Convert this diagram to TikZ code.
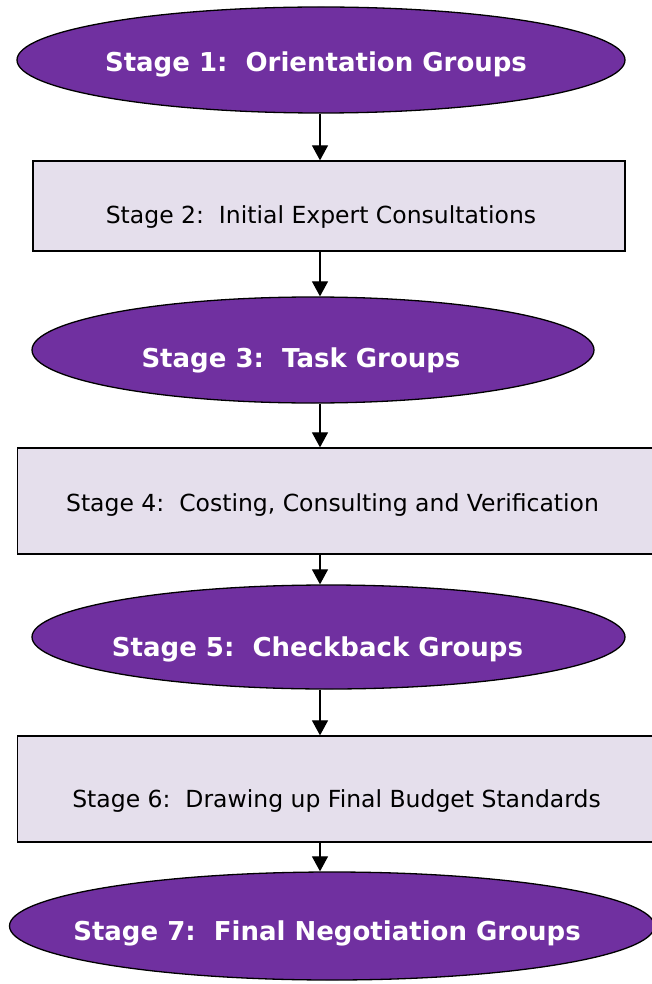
\documentclass[tikz,border=0pt]{standalone}
\usepackage{fontspec}
\setmainfont{DejaVu Sans}
\usetikzlibrary{shapes.geometric,arrows.meta}
\definecolor{stagepurple}{HTML}{7030A0}
\definecolor{stagelilac}{HTML}{E5DFEC}
\begin{document}
\begin{tikzpicture}[x=1pt,y=-1pt,
  groupstage/.style={draw=black, line width=1.3pt, ellipse, fill=stagepurple, inner sep=0pt},
  workstage/.style={draw=black, line width=1.3pt, rectangle, fill=stagelilac, inner sep=0pt},
  grouptext/.style={text=white, font=\fontsize{26}{30}\selectfont\bfseries},
  worktext/.style={text=black, font=\fontsize{23.5}{28}\selectfont},
  flowarrow/.style={line width=1.2pt, -{Triangle[length=15pt,width=16pt]}}]
\useasboundingbox (0,0) rectangle (652,984);
\coordinate (axis) at (320,0);
\node[groupstage, minimum width=608pt, minimum height=106pt,
  label={[grouptext, xshift=-5pt, yshift=-4pt]center:Stage 1:\ \ Orientation Groups}] (S1) at (321,60) {};
\node[workstage, minimum width=592pt, minimum height=90pt,
  label={[worktext, xshift=-8pt, yshift=-11pt]center:Stage 2:\ \ Initial Expert Consultations}] (S2) at (329,206) {};
\node[groupstage, minimum width=562pt, minimum height=106pt,
  label={[grouptext, xshift=-12pt, yshift=-10pt]center:Stage 3:\ \ Task Groups}] (S3) at (313,350) {};
\node[workstage, minimum width=644pt, minimum height=106pt,
  label={[worktext, xshift=-7pt, yshift=-4pt]center:Stage 4:\ \ Costing, Consulting and Verification}] (S4) at (339.5,501) {};
\node[groupstage, minimum width=593pt, minimum height=104pt,
  label={[grouptext, xshift=-11pt, yshift=-12pt]center:Stage 5:\ \ Checkback Groups}] (S5) at (328.5,637) {};
\node[workstage, minimum width=644pt, minimum height=106pt,
  label={[worktext, xshift=-3pt, yshift=-12pt]center:Stage 6:\ \ Drawing up Final Budget Standards}] (S6) at (339.5,789) {};
\node[groupstage, minimum width=645pt, minimum height=108pt,
  label={[grouptext, xshift=-5pt, yshift=-7pt]center:Stage 7:\ \ Final Negotiation Groups}] (S7) at (332,926) {};
\draw[flowarrow] (S1.south -| axis) -- (S2.north -| axis);
\draw[flowarrow] (S2.south -| axis) -- (S3.north -| axis);
\draw[flowarrow] (S3.south -| axis) -- (S4.north -| axis);
\draw[flowarrow] (S4.south -| axis) -- (S5.north -| axis);
\draw[flowarrow] (S5.south -| axis) -- (S6.north -| axis);
\draw[flowarrow] (S6.south -| axis) -- (S7.north -| axis);
\end{tikzpicture}
\end{document}
